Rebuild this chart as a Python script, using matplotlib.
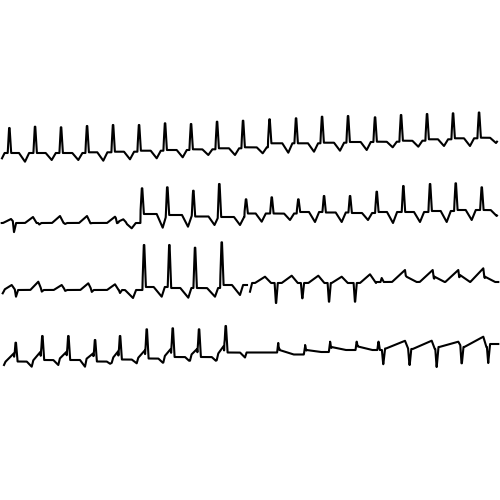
import numpy as np
import matplotlib
matplotlib.use("Agg")
import matplotlib.pyplot as plt

# ------------------------------------------------------------------
# Data (x = time position, y = screen level;
# larger y is lower on the page).
# ------------------------------------------------------------------

# Row 1 - continuous strip
row1_span = [2, 497]
row1_base_time = [2, 7.8, 33.5, 59.5, 85.5, 111.5, 137.5, 163.5, 189.5, 215.5, 241.5,
                  268, 294.5, 320.5, 346.5, 373.5, 399.5, 425.5, 451.5, 477.5]
row1_base_level = [153, 153, 153, 153, 152.3, 151.7, 150.7, 150, 149.3, 148.3, 147.3,
                   143.3, 143.3, 142.7, 142, 141.7, 140.7, 139.3, 138.3, 137.7]
row1_r_time = [9.3, 35, 61, 87, 113, 139, 165, 191, 217, 243, 269.5, 296, 322, 348,
               375, 401, 427, 453, 479]
row1_r_peak = [128, 126.7, 127.3, 126, 125, 125, 123.3, 124, 121.7, 120.7, 119.3, 118.3,
               116.7, 116, 117.3, 115, 114, 113.3, 112.5]
row1_dip_time = [0.5, 25, 51.7, 78.3, 103.3, 130, 156.7, 182.7, 208.3, 235, 262.7, 288.3,
                 314, 340, 366.7, 392.7, 418.3, 444, 470, 496]
row1_dip_level = [161.5, 161.7, 160, 160, 160.7, 159.3, 158.3, 157.3, 155, 155, 153.3,
                  152.7, 151.7, 150.7, 150, 147.3, 146.7, 146, 146, 143]

# Row 2
row2_span = [1.7, 497]
row2_base_time = [1.7, 140.5, 165.8, 191.8, 217.8, 244.5, 270.2, 296.8, 322.5, 348.5,
                  375.2, 401.8, 428.5, 454.2, 480.2]
row2_base_level = [223, 214, 215, 216.5, 217, 213.5, 213.5, 212, 212.5, 213, 212, 212,
                   211, 210, 210]
row2_r_time = [142, 167.3, 193.3, 219.3, 246, 271.7, 298.3, 324, 350, 376.7, 403.3,
               430, 455.7, 481.7]
row2_r_peak = [188.3, 187.3, 190.7, 184, 199.3, 197.3, 199.3, 196, 196, 191.7, 186,
               184, 183.3, 187.3]
row2_dip_time = [131.7, 162.7, 188, 214.5, 240, 261.7, 290, 315, 341.7, 368, 393, 420,
                 446.7, 471.7, 496.7]
row2_dip_level = [228.3, 227.7, 226.7, 225, 225, 221.7, 220, 222, 222, 220, 223, 222,
                  222, 220, 216]
row2_wave_time = [11, 33, 60, 87, 115, 123.3]
row2_wave_level = [219, 217, 216, 216, 216.7, 219.3]
row2_notch_time = [14, 39.3, 65, 90, 117]
row2_notch_level = [232.7, 224.5, 224, 223.5, 226.7]

# Row 3, first part
row3a_span = [2.7, 247]
row3a_base_time = [2.7, 142.5, 167.8, 193.5, 220.2]
row3a_base_level = [290, 287, 288, 288, 285]
row3a_r_time = [144, 169.3, 195, 221.7]
row3a_r_peak = [245, 245, 247.7, 242.3]
row3a_dip_time = [133, 161.7, 188.3, 215, 240]
row3a_dip_level = [298, 296.7, 297.7, 296.7, 295]
row3a_wave_time = [11.7, 38.3, 61.7, 88.3, 115]
row3a_wave_level = [285, 281.7, 285, 283.3, 284.3]
row3a_notch_time = [2.7, 16, 41.7, 65, 91.7, 120]
row3a_notch_level = [293.3, 296.7, 291.7, 291, 292, 293]

# Row 3, second part
row3b_span = [250, 498.3]
row3b_base_time = [250, 376]
row3b_base_level = [283, 282]
row3b_ramp_time = [265, 291.7, 318.3, 341.7, 370]
row3b_ramp_level = [276.7, 275.7, 275.7, 276.7, 274.3]
row3b_neg_time = [276, 302.3, 329, 355]
row3b_neg_level = [303, 298.3, 301.7, 301.7]
row3b_saw_time = [405, 432.7, 458.3, 483.3]
row3b_saw_level = [270, 270, 270, 268.3]
row3b_shelf_time = [406.5, 434.5, 460, 485]
row3b_shelf_level = [276.7, 276.7, 275, 276.7]
row3b_notch_time = [250, 381.7]
row3b_notch_level = [291.7, 278]

# Row 4
row4_span = [4, 498.3]
row4_base_time = [4, 14.2, 40.8, 66.8, 93.5, 118.5, 145.2, 171.2, 197.5, 224.2,
                  278.3, 305, 330, 356.7, 383.3, 409.5, 436.7, 461.7, 488.3]
row4_base_level = [361.5, 361.5, 360, 360, 361.5, 359.5, 358.5, 357, 357, 352.5,
                   354.5, 352, 350, 350, 348.5, 349, 347, 347, 344]
row4_r_time = [15.7, 42.3, 68.3, 95, 120, 146.7, 172.7, 199, 225.7]
row4_r_peak = [342.7, 336, 336, 340, 336, 329.3, 328.3, 329.3, 326]
row4_ramp_time = [13.7, 40.3, 66.3, 93, 118, 144.7, 170.7, 197, 223.7]
row4_ramp_level = [353.5, 352, 352, 353.5, 351.5, 350.5, 349, 349, 346]
row4_dip_time = [4, 31.7, 58.3, 85, 111.7, 136.7, 163.3, 190, 216.7, 245]
row4_dip_level = [365, 366.7, 365, 366.7, 365, 363.3, 363.3, 361.7, 361.7, 357.5]
row4_small_time = [278.3, 305, 330, 356.7, 378.5]
row4_small_level = [345, 345, 341.7, 341.7, 341.7]
row4_shelf_time = [279.5, 306.5, 331.5, 358]
row4_shelf_level = [350, 350, 347, 346.5]
row4_ramp2_time = [405, 431.7, 458.3, 483.3]
row4_ramp2_level = [340.8, 340.7, 341.7, 336.7]
row4_neg_time = [383.3, 409.5, 436.7, 461.7, 488.3]
row4_neg_level = [362.7, 365, 365, 363.3, 360]

# ------------------------------------------------------------------
# Waveform shapes (left width, right width, flat top) - styling only
# ------------------------------------------------------------------
SPIKE = (1.3, 1.5, 0.6)
NEG_SPIKE = (1.2, 1.5, 0.4)
SMALL_SPIKE = (1.0, 1.2, 0.3)
V_DIP = (6.0, 4.0, 0.0)
DIP_LATE = (8.0, 3.0, 0.0)
DIP_R4 = (5.0, 1.5, 0.0)
WAVE = (8.0, 3.5, 0.0)
NOTCH = (1.2, 2.0, 0.0)
RAMP = (10.0, 6.0, 0.0)
RAMP_R4 = (8.0, 1.0, 0.0)
RAMP_LONG = (19.0, 3.0, 0.0)
SAW = (13.0, 1.5, 0.0)
SHELF = (0.8, 10.0, 0.0)
SHELF_LONG = (0.5, 14.0, 0.0)


def trap(d, lw, rw, top):
    h = top / 2.0
    out = np.zeros_like(d)
    m = (d >= -h - lw) & (d < -h)
    out[m] = (d[m] + h + lw) / lw
    m = (d >= -h) & (d <= h)
    out[m] = 1.0
    m = (d > h) & (d <= h + rw)
    out[m] = 1.0 - (d[m] - h) / rw
    return out


def trace(span, base_t, base_v, groups):
    x = np.arange(span[0], span[1] + 1e-9, 0.1)
    bt = np.asarray(base_t, float)
    bv = np.asarray(base_v, float)

    def base(v):
        v = np.atleast_1d(v)
        idx = np.clip(np.searchsorted(bt, v, side="right") - 1, 0, len(bv) - 1)
        return bv[idx]

    y = base(x).astype(float)
    for times, levels, shape in groups:
        for t, lev in zip(times, levels):
            amp = lev - base(t)[0]
            y += amp * trap(x - t, *shape)
    return x, y


traces = [
    trace(row1_span, row1_base_time, row1_base_level, [
        (row1_r_time, row1_r_peak, SPIKE),
        (row1_dip_time, row1_dip_level, V_DIP),
    ]),
    trace(row2_span, row2_base_time, row2_base_level, [
        (row2_r_time, row2_r_peak, SPIKE),
        (row2_dip_time, row2_dip_level, V_DIP),
        (row2_wave_time, row2_wave_level, WAVE),
        (row2_notch_time, row2_notch_level, NOTCH),
    ]),
    trace(row3a_span, row3a_base_time, row3a_base_level, [
        (row3a_r_time, row3a_r_peak, SPIKE),
        (row3a_dip_time, row3a_dip_level, DIP_LATE),
        (row3a_wave_time, row3a_wave_level, WAVE),
        (row3a_notch_time, row3a_notch_level, NOTCH),
    ]),
    trace(row3b_span, row3b_base_time, row3b_base_level, [
        (row3b_ramp_time, row3b_ramp_level, RAMP),
        (row3b_neg_time, row3b_neg_level, NEG_SPIKE),
        (row3b_saw_time, row3b_saw_level, SAW),
        (row3b_shelf_time, row3b_shelf_level, SHELF),
        (row3b_notch_time, row3b_notch_level, NOTCH),
    ]),
    trace(row4_span, row4_base_time, row4_base_level, [
        (row4_r_time, row4_r_peak, SPIKE),
        (row4_ramp_time, row4_ramp_level, RAMP_R4),
        (row4_dip_time, row4_dip_level, DIP_R4),
        (row4_small_time, row4_small_level, SMALL_SPIKE),
        (row4_shelf_time, row4_shelf_level, SHELF_LONG),
        (row4_ramp2_time, row4_ramp2_level, RAMP_LONG),
        (row4_neg_time, row4_neg_level, NEG_SPIKE),
    ]),
]

fig = plt.figure(figsize=(5, 5), dpi=100)
ax = fig.add_axes([0, 0, 1, 1])
for x, y in traces:
    ax.plot(x, y, color="black", lw=1.5, solid_joinstyle="round")
ax.set_xlim(0, 500)
ax.set_ylim(500, 0)
ax.axis("off")
fig.savefig("out.png", dpi=100, facecolor="white")
